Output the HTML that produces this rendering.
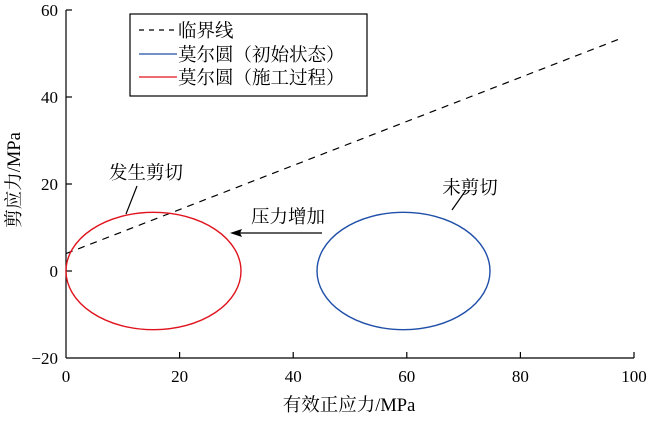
<!DOCTYPE html>
<html><head><meta charset="utf-8"><style>body{margin:0;background:#fff}</style></head><body>
<svg width="650" height="417" xmlns="http://www.w3.org/2000/svg" font-family="Liberation Serif, Noto Serif CJK SC, serif" font-size="17">
<rect width="650" height="417" fill="#fff"/>
<g stroke="#000" stroke-width="1.2" fill="none">
<line x1="66" y1="10" x2="66" y2="358"/>
<line x1="66" y1="358" x2="634" y2="358"/>
<line x1="66" y1="10" x2="72" y2="10"/>
<line x1="66" y1="97" x2="72" y2="97"/>
<line x1="66" y1="184" x2="72" y2="184"/>
<line x1="66" y1="271" x2="72" y2="271"/>
<line x1="179.6" y1="358" x2="179.6" y2="352"/>
<line x1="293.2" y1="358" x2="293.2" y2="352"/>
<line x1="406.8" y1="358" x2="406.8" y2="352"/>
<line x1="520.4" y1="358" x2="520.4" y2="352"/>
<line x1="634" y1="358" x2="634" y2="352"/>
<line x1="66" y1="253.6" x2="622" y2="38" stroke-dasharray="7,6"/>
<ellipse cx="153.5" cy="271" rx="87.5" ry="58.7" stroke="#e0141e" stroke-width="1.4"/>
<ellipse cx="403.5" cy="271" rx="86.5" ry="58.7" stroke="#1f4fa8" stroke-width="1.4"/>
<line x1="137" y1="186" x2="126" y2="214"/>
<line x1="466" y1="190" x2="452" y2="210"/>
<line x1="322" y1="233" x2="236" y2="233"/>
<rect x="130" y="14" width="237" height="82" fill="#fff"/>
<line x1="139" y1="30" x2="177" y2="30" stroke-dasharray="5,5"/>
<line x1="139" y1="54" x2="177" y2="54" stroke="#1f4fa8"/>
<line x1="139" y1="77" x2="177" y2="77" stroke="#e0141e"/>
</g>
<polygon points="230,233 242,229 240,233 242,237" fill="#000"/>
<g text-anchor="end">
<text x="58" y="16">60</text><text x="58" y="103">40</text><text x="58" y="190">20</text><text x="58" y="277">0</text><text x="58" y="364">−20</text>
</g>
<g text-anchor="middle" font-size="18.5">
<text x="66" y="382" font-size="17">0</text><text x="179.6" y="382" font-size="17">20</text><text x="293.2" y="382" font-size="17">40</text><text x="406.8" y="382" font-size="17">60</text><text x="520.4" y="382" font-size="17">80</text><text x="634" y="382" font-size="17">100</text>
<text x="349" y="411">有效正应力/MPa</text>
<text x="146" y="179">发生剪切</text>
<text x="470" y="194">未剪切</text>
<text x="288" y="223">压力增加</text>
<text transform="translate(20,180) rotate(-90)">剪应力/MPa</text>
</g>
<g font-size="18.5">
<text x="178" y="37">临界线</text>
<text x="178" y="61">莫尔圆（初始状态）</text>
<text x="178" y="84">莫尔圆（施工过程）</text>
</g>
</svg>
</body></html>
